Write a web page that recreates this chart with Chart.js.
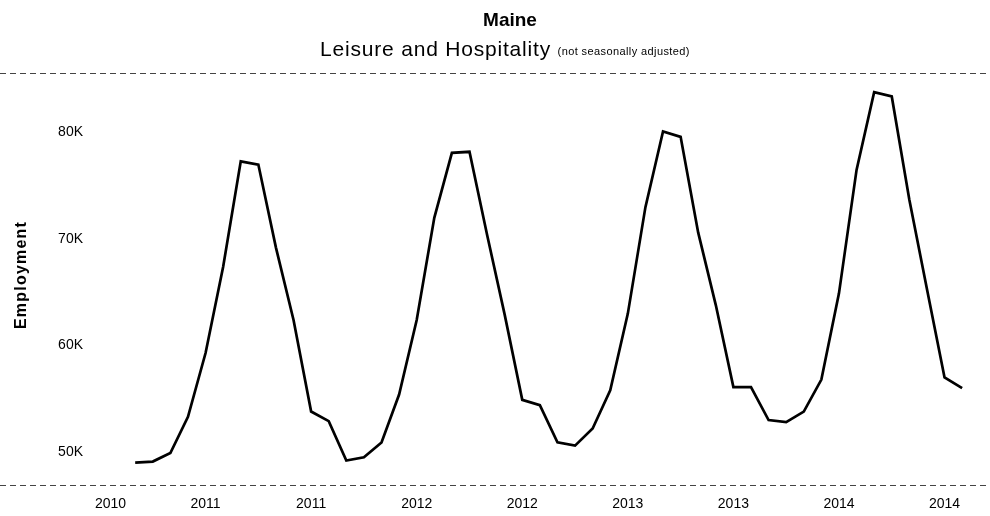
<!DOCTYPE html>
<html>
<head>
<meta charset="utf-8">
<script src="https://cdn.jsdelivr.net/npm/chart.js@4.4.1/dist/chart.umd.min.js"></script>
<style>
  html, body { margin: 0; padding: 0; background: #fff; }
  #wrap { width: 990px; height: 516px; }
</style>
</head>
<body>
<div id="wrap"><canvas id="chart"></canvas></div>
<script>
const chartTitle = "Maine";
const chartSubtitle = "Leisure and Hospitality";
const chartNote = "(not seasonally adjusted)";
const yAxisTitle = "Employment";

// employment in thousands, one value per month (48 months)
const employment = [
  49.0, 49.1, 49.9, 53.3, 59.3, 67.4, 77.3, 77.0, 69.2, 62.4, 53.8, 52.9,
  49.2, 49.5, 50.9, 55.4, 62.4, 72.0, 78.1, 78.2, 70.4, 62.9, 54.9, 54.4,
  50.9, 50.6, 52.2, 55.8, 63.0, 73.0, 80.1, 79.6, 70.6, 63.8, 56.1, 56.1,
  53.0, 52.8, 53.8, 56.8, 64.9, 76.5, 83.8, 83.4, 73.7, 65.3, 57.0, 56.0
];

// x tick positions (month index) and their labels
const xTickAt = [-1.4, 4, 10, 16, 22, 28, 34, 40, 46];
const xTickLabels = ["2010", "2011", "2011", "2012", "2012", "2013", "2013", "2014", "2014"];

const yTickValues = [50, 60, 70, 80];
const yTickLabels = ["50K", "60K", "70K", "80K"];

const FONT = "'Liberation Sans', Arial, sans-serif";

const points = employment.map(function (v, i) { return { x: i, y: v }; });

// titles, axis title and the dashed frame lines
const decor = {
    id: "decor",
    beforeDraw: function (chart) {
        const ctx = chart.ctx;
        const area = chart.chartArea;
        ctx.save();
        ctx.strokeStyle = "#444";
        ctx.lineWidth = 1;
        ctx.setLineDash([6, 4]);
        ctx.beginPath();
        ctx.moveTo(0, area.top + 0.5);
        ctx.lineTo(chart.width, area.top + 0.5);
        ctx.moveTo(0, area.bottom + 0.5);
        ctx.lineTo(chart.width, area.bottom + 0.5);
        ctx.stroke();
        ctx.restore();
    },
    afterDraw: function (chart) {
        const ctx = chart.ctx;
        const area = chart.chartArea;
        ctx.save();
        ctx.fillStyle = "#000";
        ctx.textBaseline = "middle";
        ctx.textAlign = "center";
        ctx.font = "bold 19px " + FONT;
        ctx.fillText(chartTitle, 510, 21);

        const bigFont = "21px " + FONT;
        const smallFont = "11px " + FONT;
        ctx.letterSpacing = "0.8px";
        ctx.font = bigFont;
        const w1 = ctx.measureText(chartSubtitle + " ").width;
        ctx.letterSpacing = "0.4px";
        ctx.font = smallFont;
        const w2 = ctx.measureText(chartNote).width;
        const x0 = 505 - (w1 + w2) / 2;
        ctx.textAlign = "left";
        ctx.letterSpacing = "0.8px";
        ctx.font = bigFont;
        ctx.fillText(chartSubtitle + " ", x0, 50);
        ctx.letterSpacing = "0.4px";
        ctx.font = smallFont;
        ctx.fillText(chartNote, x0 + w1, 52);

        // rotated y axis title
        ctx.translate(22, (area.top + area.bottom) / 2 - 4);
        ctx.rotate(-Math.PI / 2);
        ctx.textAlign = "center";
        ctx.letterSpacing = "1.2px";
        ctx.font = "bold 16px " + FONT;
        ctx.fillText(yAxisTitle, 0, 0);
        ctx.restore();
        ctx.letterSpacing = "0px";
    }
};

new Chart(document.getElementById("chart"), {
    type: "line",
    data: {
        datasets: [{
            label: "Employment",
            data: points,
            borderColor: "#000",
            borderWidth: 2.7,
            pointRadius: 0,
            tension: 0,
            fill: false
        }]
    },
    options: {
        responsive: true,
        maintainAspectRatio: false,
        animation: false,
        layout: { padding: { top: 73, right: 5, left: 0, bottom: 0 } },
        plugins: {
            legend: { display: false },
            tooltip: { enabled: false }
        },
        scales: {
            x: {
                type: "linear",
                min: -2,
                max: 48.3,
                border: { display: false },
                grid: { display: false, drawTicks: false },
                afterBuildTicks: function (scale) {
                    scale.ticks = xTickAt.map(function (v) { return { value: v }; });
                },
                afterFit: function (scale) { scale.height = 31; },
                ticks: {
                    padding: 11,
                    color: "#000",
                    font: { family: FONT, size: 14 },
                    maxRotation: 0,
                    autoSkip: false,
                    callback: function (value, index) { return xTickLabels[index]; }
                }
            },
            y: {
                min: 46.9,
                max: 85.6,
                border: { display: false },
                grid: { display: false, drawTicks: false },
                afterBuildTicks: function (scale) {
                    scale.ticks = yTickValues.map(function (v) { return { value: v }; });
                },
                afterFit: function (scale) { scale.width = 100; },
                ticks: {
                    padding: 17,
                    color: "#000",
                    font: { family: FONT, size: 14 },
                    callback: function (value, index) { return yTickLabels[index]; }
                }
            }
        }
    },
    plugins: [decor]
});
</script>
</body>
</html>
